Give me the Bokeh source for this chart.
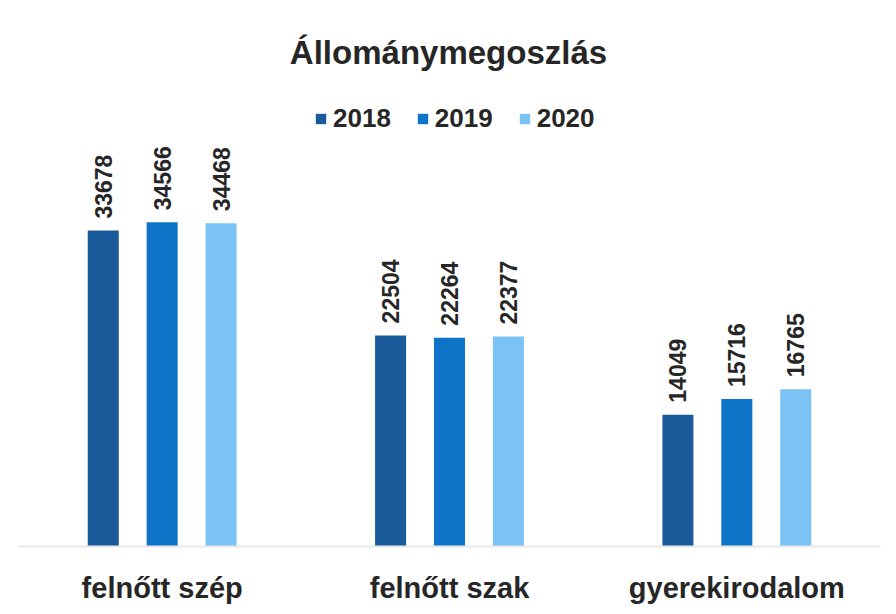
from bokeh.plotting import figure
from bokeh.models import ColumnDataSource, FactorRange, Range1d, Label, Legend, LegendItem
from bokeh.transform import dodge
from bokeh.embed import file_html
from bokeh.resources import INLINE
from bokeh.core.properties import value
import math

categories = ["felnőtt szép", "felnőtt szak", "gyerekirodalom"]
years = ["2018", "2019", "2020"]
v2018 = [33678, 22504, 14049]
v2019 = [34566, 22264, 15716]
v2020 = [34468, 22377, 16765]
colors = ["#1a5a9a", "#0e74c8", "#7cc3f5"]

FONT = "Liberation Sans"

src = ColumnDataSource(dict(cat=categories, y2018=v2018, y2019=v2019, y2020=v2020,
                            l2018=[str(v) for v in v2018],
                            l2019=[str(v) for v in v2019],
                            l2020=[str(v) for v in v2020]))

p = figure(x_range=FactorRange(*categories), y_range=Range1d(0, 58200),
           width=888, height=606, output_backend="svg", toolbar_location=None,
           min_border_left=18, min_border_right=8, min_border_top=0, min_border_bottom=60)
p.outline_line_color = None
p.background_fill_color = "white"
p.border_fill_color = "white"
p.grid.visible = False
p.yaxis.visible = False
p.xaxis.major_tick_line_color = None
p.xaxis.minor_tick_line_color = None
p.xaxis.axis_line_color = "#e8e8e8"
p.xaxis.axis_line_width = 2
p.xaxis.major_label_standoff = 19
p.xaxis.major_label_text_font = FONT
p.xaxis.major_label_text_font_style = "bold"
p.xaxis.major_label_text_font_size = "29px"
p.xaxis.major_label_text_color = "#262626"

offsets = [-0.205, 0.0, 0.205]
renderers = []
for yr, off, col in zip(years, offsets, colors):
    r = p.vbar(x=dodge("cat", off, range=p.x_range), top="y" + yr, width=0.108,
               source=src, fill_color=col, line_color=None)
    renderers.append(r)
    p.text(x=dodge("cat", off, range=p.x_range), y="y" + yr, text="l" + yr, source=src,
           angle=math.pi / 2, text_align="left", text_baseline="middle", y_offset=-12,
           text_font=value(FONT), text_font_style="bold", text_font_size="23px",
           text_color="#262626")

legend = Legend(items=[LegendItem(label=yr, renderers=[r]) for yr, r in zip(years, renderers)],
                orientation="horizontal", location=(296, 412),
                label_text_font=FONT, label_text_font_style="bold", label_text_font_size="26px",
                label_text_color="#262626", glyph_width=13, glyph_height=13,
                spacing=25, label_standoff=6, padding=0, margin=0,
                background_fill_alpha=0, border_line_color=None)
p.add_layout(legend)

title = Label(x=430, y=494, x_units="screen", y_units="screen", text="Állománymegoszlás",
              text_align="center", text_baseline="middle", text_font=FONT,
              text_font_style="bold", text_font_size="33px", text_color="#262626")
p.add_layout(title)

open("out.html", "w").write(file_html(p, INLINE))
